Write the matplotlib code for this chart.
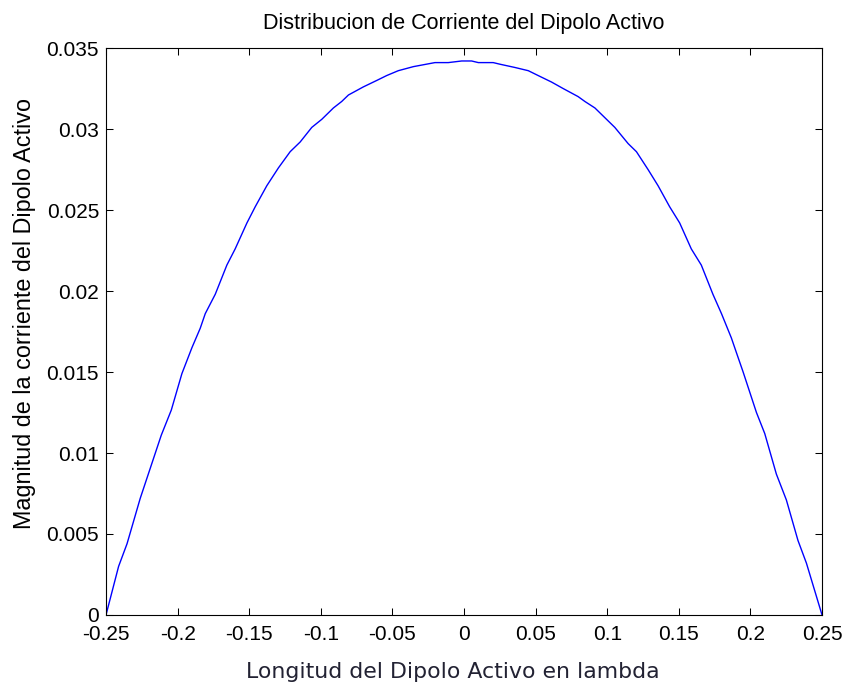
import matplotlib
matplotlib.use("Agg")
import numpy as np
import matplotlib.pyplot as plt

# posicion a lo largo del dipolo (en lambda) y magnitud de la corriente
z = [-0.25, -0.2412, -0.2353, -0.2261, -0.2114, -0.2044, -0.197, -0.190,
     -0.1842, -0.1807, -0.1737, -0.1656, -0.1598, -0.1516, -0.1458, -0.1377,
     -0.1296, -0.1214, -0.1144, -0.1063, -0.0993, -0.0912, -0.0854, -0.0807,
     -0.0703, -0.0609, -0.054, -0.0459, -0.0354, -0.0203, -0.011, -0.0016,
     0.0053, 0.01, 0.0204, 0.0251, 0.0355, 0.0449, 0.0518, 0.0611,
     0.0692, 0.0797, 0.0844, 0.0914, 0.0995, 0.1053, 0.1146, 0.1204,
     0.1285, 0.1355, 0.1436, 0.1506, 0.1587, 0.1657, 0.1738, 0.1798,
     0.1867, 0.1902, 0.1949, 0.2042, 0.21, 0.2181, 0.2251, 0.2332,
     0.2391, 0.25]
I = [0.0, 0.0030, 0.0044, 0.0072, 0.0111, 0.01265, 0.0149, 0.0165,
     0.0177, 0.0186, 0.0198, 0.0216, 0.0226, 0.0242, 0.0252, 0.0265,
     0.0276, 0.0286, 0.0292, 0.0301, 0.0306, 0.0313, 0.0317, 0.0321,
     0.0326, 0.0330, 0.0333, 0.0336, 0.03385, 0.0341, 0.0341, 0.0342,
     0.0342, 0.0341, 0.0341, 0.0340, 0.0338, 0.0336, 0.0333, 0.0329,
     0.0325, 0.0320, 0.0317, 0.0313, 0.0306, 0.0301, 0.0291, 0.0286,
     0.0275, 0.0265, 0.0252, 0.0242, 0.0226, 0.0216, 0.0198, 0.0186,
     0.0171, 0.0162, 0.0150, 0.0125, 0.0112, 0.0087, 0.0071, 0.0046,
     0.0032, 0.0]

xticks = [-0.25, -0.2, -0.15, -0.1, -0.05, 0, 0.05, 0.1, 0.15, 0.2, 0.25]
xticklabels = ['-0.25', '-0.2', '-0.15', '-0.1', '-0.05', '0',
               '0.05', '0.1', '0.15', '0.2', '0.25']
yticks = [0, 0.005, 0.01, 0.015, 0.02, 0.025, 0.03, 0.035]
yticklabels = ['0', '0.005', '0.01', '0.015', '0.02', '0.025', '0.03', '0.035']

plt.rcParams['font.family'] = ['Liberation Sans', 'DejaVu Sans']
plt.rcParams['axes.unicode_minus'] = False

fig = plt.figure(figsize=(8.5, 6.85), dpi=100)
ax = fig.add_axes([0.1247, 0.1022, 0.8424, 0.8277])

ax.plot(z, I, color='#0000ff', linewidth=1.0)

ax.set_xlim(-0.25, 0.25)
ax.set_ylim(0, 0.035)
ax.set_xticks(xticks)
ax.set_xticklabels(xticklabels)
ax.set_yticks(yticks)
ax.set_yticklabels(yticklabels)

ax.tick_params(direction='in', length=5, width=0.75, top=True, right=True,
               labelsize=15, colors='black')
ax.tick_params(axis='x', pad=7)
ax.tick_params(axis='y', pad=5)
for s in ax.spines.values():
    s.set_linewidth(0.8)
    s.set_color('black')

ax.set_title('Distribucion de Corriente del Dipolo Activo', fontsize=15.5, pad=13.5)
ax.set_xlabel('Longitud del Dipolo Activo en lambda', fontsize=15.8,
              family='DejaVu Sans', color='#222233')
ax.set_ylabel('Magnitud de la corriente del Dipolo Activo', fontsize=16.8)
ax.xaxis.set_label_coords(0.4846, -0.083)
ax.yaxis.set_label_coords(-0.098, 0.531)

fig.savefig('out.png', dpi=100)
